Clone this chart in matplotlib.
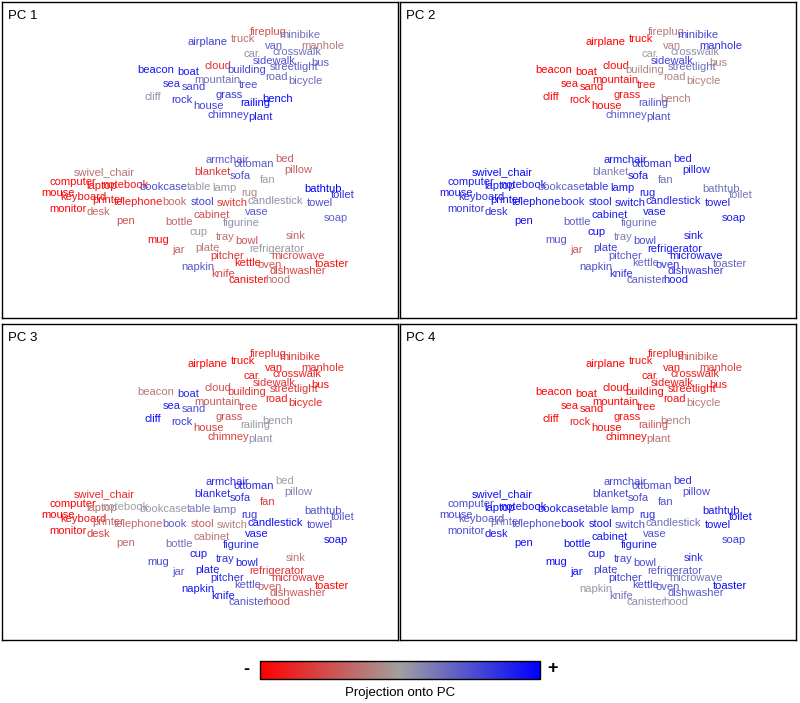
"""Word embedding layout coloured by projection onto the first four PCs."""

import matplotlib
matplotlib.use("Agg")
import matplotlib.pyplot as plt
import numpy as np
from matplotlib.colors import LinearSegmentedColormap, Normalize
from matplotlib.colorbar import ColorbarBase

plt.rcParams.update({"font.family": ["Liberation Sans", "DejaVu Sans"]})

# word layout (2-D embedding, shared by all panels)
words = [
    "fireplug", "minibike", "airplane", "truck", "van", "manhole", "car",
    "crosswalk", "sidewalk", "bus", "cloud", "building", "streetlight",
    "beacon", "boat", "road", "mountain", "tree", "bicycle", "sea", "sand",
    "cliff", "grass", "bench", "rock", "railing", "house", "chimney", "plant",
    "swivel_chair", "computer", "laptop", "notebook", "bookcase", "table",
    "mouse", "keyboard", "printer", "telephone", "book", "stool", "monitor",
    "desk", "pen", "bottle", "cup", "mug", "jar", "plate", "napkin",
    "armchair", "ottoman", "bed", "blanket", "sofa", "pillow", "fan", "lamp",
    "rug", "bathtub", "toilet", "switch", "candlestick", "towel", "cabinet",
    "vase", "figurine", "soap", "tray", "bowl", "sink", "refrigerator",
    "pitcher", "microwave", "kettle", "oven", "toaster", "dishwasher",
    "knife", "canister", "hood",
]
emb_x = [
    268, 300, 208, 243, 274, 323, 251,
    297, 274, 320, 218, 247, 294,
    156, 188, 276, 217, 248, 305, 172, 194,
    153, 229, 278, 182, 255, 209, 228, 260,
    104, 73, 102, 125, 163, 199,
    58, 83, 108, 138, 174, 203, 68,
    98, 126, 179, 199, 158, 179, 207, 198,
    227, 254, 285, 212, 240, 298, 268, 224,
    249, 323, 343, 232, 275, 320, 212,
    257, 241, 336, 225, 247, 296, 277,
    227, 298, 248, 270, 332, 298,
    223, 248, 278,
]
emb_y = [
    32, 35, 42, 39, 46, 46, 54,
    52, 61, 63, 66, 70, 67,
    70, 72, 77, 80, 85, 81, 84, 87,
    97, 95, 99, 100, 103, 106, 115, 117,
    172, 182, 186, 185, 187, 187,
    193, 197, 200, 202, 202, 202, 209,
    212, 221, 222, 232, 240, 250, 248, 267,
    160, 164, 159, 172, 176, 170, 180, 188,
    193, 189, 195, 203, 201, 203, 215,
    212, 223, 218, 237, 241, 236, 249,
    256, 256, 263, 265, 264, 271,
    274, 280, 280,
]

# projection of each word onto PC1..PC4 (-1 = red, +1 = blue)
pc1 = [
    -0.5, 0.3, 0.6, -0.3, 0.4, -0.25, 0.1,
    0.3, 0.5, 0.4, -0.7, 0.55, 0.4,
    0.85, 0.85, 0.35, 0.3, 0.5, 0.35, 0.75, 0.6,
    0.1, 0.65, 0.95, 0.7, 0.95, 0.6, 0.6, 0.8,
    -0.3, -0.95, -0.95, -0.9, 0.5, 0.05,
    -1.0, -0.9, -0.9, -0.85, -0.35, 0.6, -0.95,
    -0.35, -0.5, -0.35, 0.05, -0.9, -0.4, -0.25, 0.45,
    0.45, 0.45, -0.4, -0.65, 0.5, -0.4, 0.0, 0.05,
    -0.15, 1.0, 0.7, -0.65, 0.1, 0.5, -0.5,
    0.45, 0.1, 0.4, -0.3, -0.5, -0.35, 0.05,
    -0.65, -0.55, -0.95, -0.45, -0.9, -0.6,
    -0.55, -0.9, -0.3,
]
pc2 = [
    -0.25, 0.55, -1.0, -1.0, -0.2, 0.7, 0.0,
    0.1, 0.6, -0.2, -0.95, -0.15, 0.3,
    -1.0, -1.0, -0.15, -0.95, -0.8, -0.2, -0.95, -0.95,
    -1.0, -0.85, -0.25, -0.95, 0.45, -0.95, 0.45, 0.5,
    0.95, 0.8, 0.85, 0.85, 0.4, 0.7,
    0.85, 0.7, 0.9, 0.9, 0.7, 0.8, 0.65,
    0.7, 0.9, 0.4, 0.9, 0.45, -0.45, 0.6, 0.5,
    0.85, 0.7, 0.8, 0.2, 0.85, 0.8, 0.3, 0.85,
    0.75, 0.3, 0.25, 0.85, 0.75, 0.8, 0.8,
    0.85, 0.3, 0.8, 0.2, 0.55, 0.8, 0.85,
    0.45, 0.85, 0.35, 0.7, 0.35, 0.65,
    0.7, 0.4, 0.85,
]
pc3 = [
    -0.7, -0.65, -1.0, -1.0, -0.9, -0.7, -0.85,
    -0.8, -0.65, -0.85, -0.5, -0.65, -0.65,
    -0.25, 0.75, -0.85, -0.45, -0.45, -0.75, 0.8, 0.5,
    0.95, -0.5, 0.05, 0.65, 0.05, -0.6, -0.6, 0.1,
    -0.75, -1.0, -0.3, 0.0, 0.05, 0.25,
    -1.0, -0.9, -0.35, -0.35, 0.45, -0.4, -0.95,
    -0.6, -0.35, 0.3, 0.85, 0.55, 0.45, 0.85, 0.85,
    0.7, 0.75, 0.0, 0.75, 0.7, 0.2, -0.65, 0.25,
    0.65, 0.5, 0.45, -0.2, 0.9, 0.55, -0.25,
    0.85, 0.75, 0.9, 0.7, 0.8, -0.25, -0.7,
    0.7, -0.65, 0.45, -0.4, -0.95, -0.45,
    0.85, 0.45, -0.5,
]
pc4 = [
    -0.8, -0.4, -1.0, -0.9, -0.85, -0.6, -0.9,
    -0.8, -0.85, -0.85, -1.0, -0.9, -0.85,
    -1.0, -0.95, -0.9, -0.95, -0.85, -0.25, -0.95, -0.9,
    -1.0, -0.85, -0.2, -0.8, -0.45, -0.95, -1.0, -0.3,
    0.9, 0.5, 0.95, 0.9, 0.85, 0.55,
    0.55, 0.45, 0.3, 0.5, 0.85, 0.9, 0.5,
    0.85, 0.9, 0.9, 0.85, 0.9, 0.9, 0.6, 0.05,
    0.55, 0.55, 0.7, 0.55, 0.5, 0.5, 0.5, 0.55,
    0.7, 0.85, 0.95, 0.5, 0.3, 0.9, 0.85,
    0.5, 0.85, 0.6, 0.6, 0.55, 0.7, 0.45,
    0.6, 0.25, 0.55, 0.45, 0.95, 0.45,
    0.3, 0.1, 0.05,
]
panel_titles = ["PC 1", "PC 2", "PC 3", "PC 4"]
projections = [pc1, pc2, pc3, pc4]

cmap = LinearSegmentedColormap.from_list("proj", ["#ff0000", "#a0a0a0", "#0000ff"])
norm = Normalize(-1, 1)

W, H = 800, 703
fig = plt.figure(figsize=(W / 100, H / 100), dpi=100)

# panel boxes in pixels: (left, top)
boxes = [(2, 2), (400, 2), (2, 324), (400, 324)]
bw, bh = 396, 316

for (left, top), title, vals in zip(boxes, panel_titles, projections):
    ax = fig.add_axes([left / W, 1 - (top + bh) / H, bw / W, bh / H])
    ax.set_xlim(2, 2 + bw)
    ax.set_ylim(2 + bh, 2)
    ax.set_xticks([])
    ax.set_yticks([])
    for s in ax.spines.values():
        s.set_linewidth(1.0)
        s.set_color("black")
    for w, x, y, v in zip(words, emb_x, emb_y, vals):
        ax.text(x, y, w, color=cmap(norm(v)), fontsize=8,
                ha="center", va="center")
    ax.text(0.015, 0.955, title, transform=ax.transAxes, fontsize=9.5,
            ha="left", va="center")

# colour bar
cax = fig.add_axes([260 / W, 1 - 679 / H, 280 / W, 18 / H])
cb = ColorbarBase(cax, cmap=cmap, norm=norm, orientation="horizontal")
cb.set_ticks([])
cb.outline.set_linewidth(1.0)
fig.text(246 / W, 1 - 669 / H, "-", fontsize=13, fontweight="bold",
         ha="center", va="center")
fig.text(553 / W, 1 - 669 / H, "+", fontsize=13, fontweight="bold",
         ha="center", va="center")
fig.text(400 / W, 1 - 693 / H, "Projection onto PC", fontsize=9.5,
         ha="center", va="center")

fig.savefig("out.png", dpi=100)
